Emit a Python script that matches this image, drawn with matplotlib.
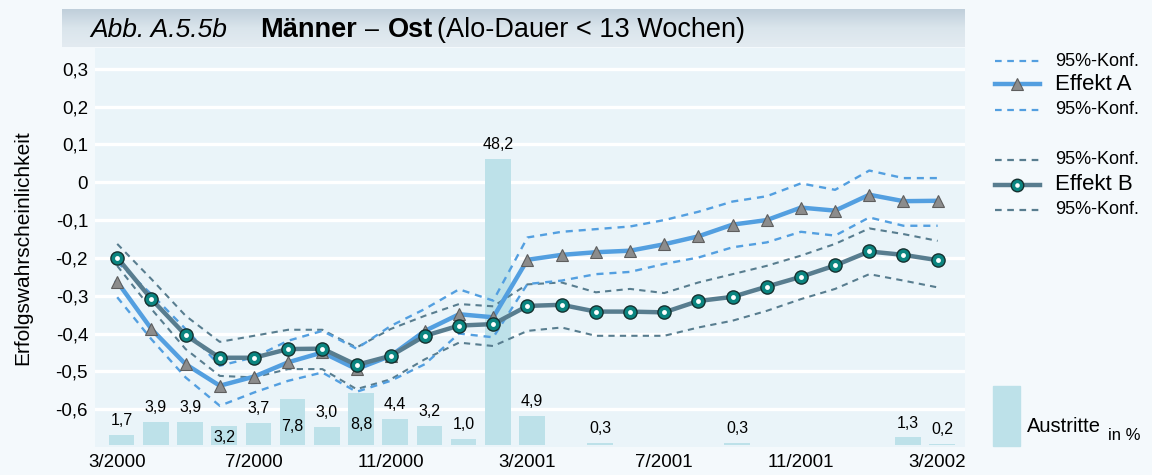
import numpy as np
import matplotlib
matplotlib.use('Agg')
import matplotlib.pyplot as plt

# Daten (Monate 3/2000 .. 3/2002)
months = ['3/2000', '4/2000', '5/2000', '6/2000', '7/2000', '8/2000', '9/2000', '10/2000',
          '11/2000', '12/2000', '1/2001', '2/2001', '3/2001', '4/2001', '5/2001', '6/2001',
          '7/2001', '8/2001', '9/2001', '10/2001', '11/2001', '12/2001', '1/2002', '2/2002', '3/2002']

effekt_a = [-0.263, -0.388, -0.481, -0.538, -0.514, -0.476, -0.450, -0.494, -0.459, -0.393, -0.349, -0.357,
            -0.205, -0.192, -0.185, -0.181, -0.164, -0.143, -0.112, -0.100, -0.067, -0.075, -0.033, -0.050, -0.049]
a_upper = [-0.211, -0.296, -0.388, -0.485, -0.463, -0.419, -0.393, -0.440, -0.380, -0.335, -0.283, -0.313,
           -0.146, -0.131, -0.124, -0.117, -0.100, -0.078, -0.051, -0.037, -0.003, -0.020, 0.031, 0.011, 0.011]
a_lower = [-0.304, -0.415, -0.516, -0.591, -0.556, -0.525, -0.503, -0.554, -0.525, -0.481, -0.400, -0.410,
           -0.269, -0.260, -0.243, -0.237, -0.216, -0.199, -0.172, -0.159, -0.131, -0.141, -0.093, -0.115, -0.115]

effekt_b = [-0.199, -0.309, -0.404, -0.464, -0.464, -0.441, -0.440, -0.483, -0.459, -0.406, -0.379, -0.375,
            -0.327, -0.324, -0.342, -0.342, -0.344, -0.314, -0.303, -0.276, -0.250, -0.220, -0.183, -0.192, -0.206]
b_upper = [-0.163, -0.256, -0.353, -0.422, -0.406, -0.390, -0.390, -0.437, -0.388, -0.353, -0.322, -0.328,
           -0.270, -0.265, -0.291, -0.282, -0.293, -0.265, -0.243, -0.221, -0.194, -0.163, -0.122, -0.137, -0.155]
b_lower = [-0.221, -0.335, -0.441, -0.512, -0.516, -0.494, -0.494, -0.547, -0.521, -0.468, -0.424, -0.433,
           -0.393, -0.384, -0.406, -0.406, -0.406, -0.384, -0.366, -0.340, -0.309, -0.282, -0.243, -0.260, -0.278]

# Austritte in %
austritte = [1.7, 3.9, 3.9, 3.2, 3.7, 7.8, 3.0, 8.8, 4.4, 3.2, 1.0, 48.2,
             4.9, 0, 0.3, 0, 0, 0, 0.3, 0, 0, 0, 0, 1.3, 0.2]
label_inside = [3, 5, 7]   # Balken mit Beschriftung im Balken

y_ticks = [0.3, 0.2, 0.1, 0, -0.1, -0.2, -0.3, -0.4, -0.5, -0.6]
y_ticklabels = ['0,3', '0,2', '0,1', '0', '-0,1', '-0,2', '-0,3', '-0,4', '-0,5', '-0,6']

# Farben
c_a = '#539fe0'
c_b = '#587d8f'
c_bar = '#bde1e9'
c_fig = '#f4f9fc'
c_plot = '#eaf4f9'

plt.rcParams['font.family'] = ['Liberation Sans', 'DejaVu Sans']

fig = plt.figure(figsize=(11.52, 4.75), dpi=100, facecolor=c_fig)
W, H = 1152, 475
rect = [95 / W, 1 - 447 / H, (965 - 95) / W, (447 - 48) / H]

x = np.arange(len(months))

# Grund-Achse: Hintergrund + Gitter + Tick-Beschriftungen
ax = fig.add_axes(rect, facecolor=c_plot)
ax.set_xlim(-0.65, 24.8)
ax.set_ylim(-0.70, 0.355)
ax.set_yticks(y_ticks)
ax.set_yticklabels(y_ticklabels, fontsize=13.5)
ax.set_xticks(x[::4])
ax.set_xticklabels(months[::4], fontsize=13.5)
ax.tick_params(axis='y', length=0, pad=5)
ax.tick_params(axis='x', length=0, pad=5)
for yv in y_ticks:
    ax.axhline(yv, color='white', lw=2.4, zorder=0)
for s in ax.spines.values():
    s.set_visible(False)
ax.set_ylabel('Erfolgswahrscheinlichkeit', fontsize=15, labelpad=17)

# Balken (Austritte) auf eigener Skala
axb = ax.twinx()
axb.set_ylim(-0.3, 66.8)
axb.set_yticks([])
for s in axb.spines.values():
    s.set_visible(False)
axb.bar(x + 0.13, austritte, width=0.75, color=c_bar, zorder=1)
for i, v in enumerate(austritte):
    if v == 0:
        continue
    lab = ('%.1f' % v).replace('.', ',')
    if i in label_inside:
        axb.text(x[i] + 0.13, v * 0.4, lab, ha='center', va='center', fontsize=11.5)
    else:
        axb.annotate(lab, (x[i] + 0.13, v), xytext=(0, 5), textcoords='offset points',
                     ha='center', va='bottom', fontsize=11.5)

# Linien
axl = ax.twinx()
axl.set_ylim(ax.get_ylim())
axl.set_yticks([])
for s in axl.spines.values():
    s.set_visible(False)
dash = (0, (3, 2.5))
axl.plot(x, b_upper, color=c_b, lw=1.5, ls=dash)
axl.plot(x, b_lower, color=c_b, lw=1.5, ls=dash)
axl.plot(x, a_upper, color=c_a, lw=1.7, ls=dash)
axl.plot(x, a_lower, color=c_a, lw=1.7, ls=dash)
axl.plot(x, effekt_a, color=c_a, lw=3.2, marker='^', ms=9, mfc='#8c8c8c', mec='#5e5e5e', mew=0.8)
axl.plot(x, effekt_b, color=c_b, lw=3.2, marker='o', ms=9.5, mfc='#0b8580', mec='#15302f', mew=1.0)
axl.plot(x, effekt_b, ls='none', marker='o', ms=3.5, mfc='white', mec='none')

# Titelband
band = fig.add_axes([62 / W, 1 - 47 / H, (965 - 62) / W, 38 / H])
grad = np.linspace(0, 1, 50).reshape(-1, 1)
cmap = matplotlib.colors.LinearSegmentedColormap.from_list('band', ['#c0cfdb', '#dae5ec', '#e3ebf1'])
band.imshow(grad, aspect='auto', cmap=cmap, extent=[0, 1, 0, 1])
band.axis('off')

t1 = band.text(28 / 903, 0.45, 'Abb. A.5.5b', style='italic', fontsize=19, va='center', transform=band.transAxes)
t2 = band.annotate('Männer', xy=(1, 0.5), xycoords=t1, xytext=(24, 0), textcoords='offset points',
                   fontsize=19.5, fontweight='bold', va='center')
t3 = band.annotate('–', xy=(1, 0.5), xycoords=t2, xytext=(6, 0), textcoords='offset points',
                   fontsize=18, va='center')
t4 = band.annotate('Ost', xy=(1, 0.5), xycoords=t3, xytext=(6, 0), textcoords='offset points',
                   fontsize=19.5, fontweight='bold', va='center')
t5 = band.annotate('(Alo-Dauer < 13 Wochen)', xy=(1, 0.5), xycoords=t4, xytext=(3, 0),
                   textcoords='offset points', fontsize=19.5, va='center')

# Legende rechts
ov = fig.add_axes([0, 0, 1, 1])
ov.set_xlim(0, W)
ov.set_ylim(H, 0)
ov.axis('off')
ov.patch.set_visible(False)

rows = [(61, c_a, 'dash', '95%-Konf.'), (84, c_a, 'A', 'Effekt A'), (110, c_a, 'dash', '95%-Konf.'),
        (160, c_b, 'dash', '95%-Konf.'), (185, c_b, 'B', 'Effekt B'), (210, c_b, 'dash', '95%-Konf.')]
for yy, col, kind, txt in rows:
    if kind == 'dash':
        ov.plot([995, 1040], [yy, yy], color=col, lw=1.6, ls=dash)
        ov.text(1055, yy, txt, fontsize=13, va='center')
    else:
        ov.plot([995, 1040], [yy, yy], color=col, lw=3.2)
        if kind == 'A':
            ov.plot([1017], [yy], marker='^', ms=8, mfc='#8c8c8c', mec='#5e5e5e', mew=0.8)
        else:
            ov.plot([1017], [yy], marker='o', ms=9, mfc='#0b8580', mec='#15302f', mew=1.0)
            ov.plot([1017], [yy], marker='o', ms=3.3, mfc='white', mec='none')
        ov.text(1055, yy, txt, fontsize=16, va='center')

ov.add_patch(plt.Rectangle((993, 386), 27, 60, color=c_bar))
ta = ov.text(1027, 432, 'Austritte', fontsize=14.5, va='baseline')
ov.annotate('in %', xy=(1, 0), xycoords=ta, xytext=(5, -3), textcoords='offset points',
            fontsize=12, va='baseline')

fig.savefig('out.png', dpi=100, facecolor=c_fig)
